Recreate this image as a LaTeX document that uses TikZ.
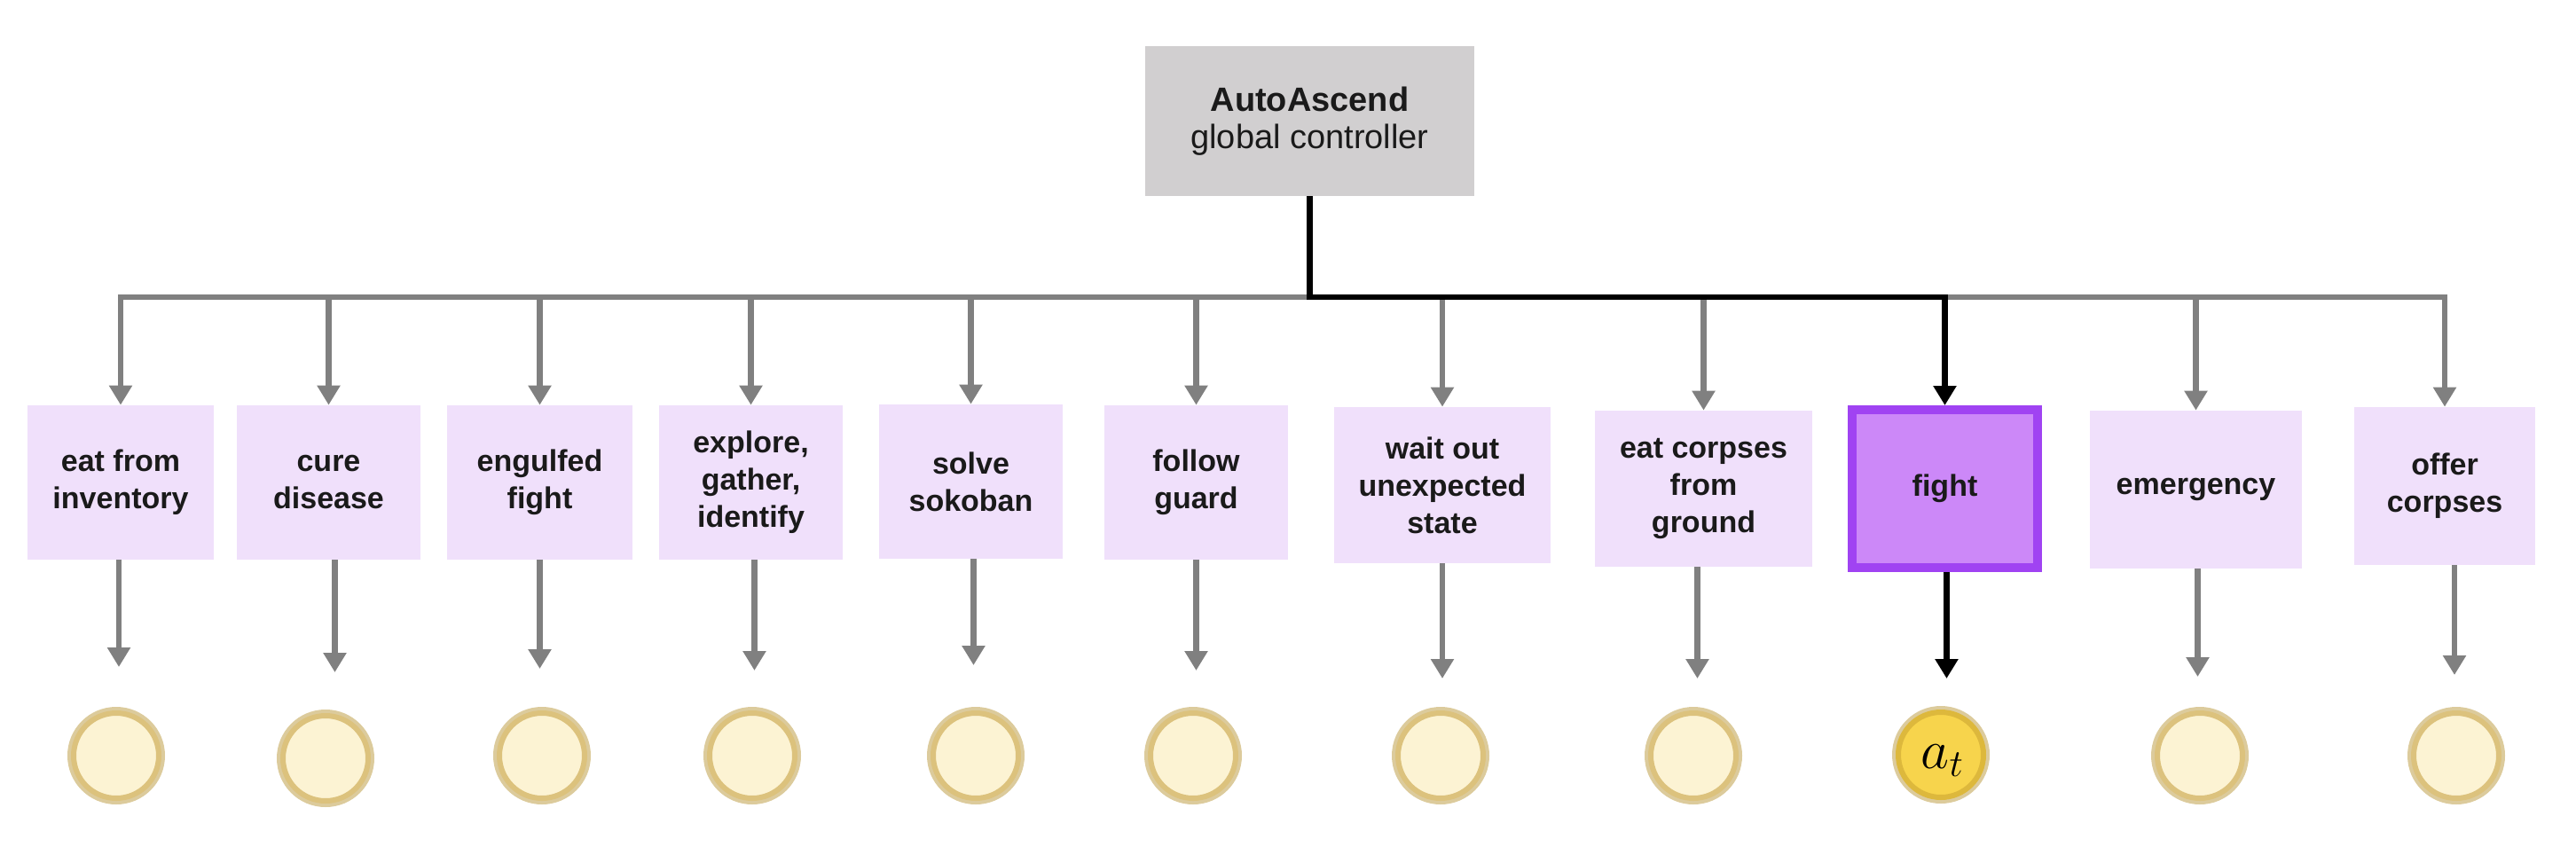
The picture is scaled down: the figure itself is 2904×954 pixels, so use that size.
\documentclass[tikz,border=0pt]{standalone}
\usepackage{graphicx}
\usepackage{fontspec}
\setmainfont{Liberation Sans}
\usetikzlibrary{arrows.meta}
\definecolor{lav}{HTML}{F0E0FB}
\definecolor{fightfill}{HTML}{CC88F8}
\definecolor{fightborder}{HTML}{A043F2}
\definecolor{topgray}{HTML}{D1CFD0}
\definecolor{lgray}{HTML}{808080}
\definecolor{cream}{HTML}{FCF3D3}
\definecolor{ringdark}{HTML}{DCC27D}
\definecolor{ringlight}{HTML}{DCCB9C}
\definecolor{gold}{HTML}{F7D44C}
\definecolor{goldring}{HTML}{DDB83C}
\definecolor{txt}{HTML}{1A1A1A}
\begin{document}
\begin{tikzpicture}[x=0.5pt,y=-0.5pt,
  task/.style={rectangle, fill=lav, text=txt, align=center, inner sep=0pt,
    font=\fontsize{17}{21}\selectfont\bfseries},
  chosen/.style={rectangle, fill=fightfill, draw=fightborder, line width=5pt, text=txt,
    align=center, inner sep=0pt, font=\fontsize{17}{21}\selectfont\bfseries},
  ctrlbox/.style={rectangle, fill=topgray, text=txt, align=center, inner sep=0pt,
    font=\fontsize{19}{21}\selectfont},
  act/.style={circle, minimum size=48pt, inner sep=0pt, outer sep=0pt, fill=cream,
    draw=ringdark, line width=3pt, preaction={draw=ringlight, line width=7pt}},
  actsel/.style={act, fill=gold, draw=goldring},
  gline/.style={draw=lgray, line width=3.2pt},
  garr/.style={gline, -{Triangle[width=12.5pt,length=11pt]}},
  bline/.style={draw=black, line width=3.3pt, line join=miter},
  barr/.style={bline, -{Triangle[width=12.5pt,length=11pt]}}
]
\useasboundingbox (0,0) rectangle (2904,954);

\node[ctrlbox, minimum width=185.5pt, minimum height=84.5pt] (ctrl) at (1476.5,136.5)
  {\textbf{AutoAscend}\\global controller};

\node[task, minimum width=105pt,  minimum height=87pt] (b1)  at (136,544)   {eat from\\inventory};
\node[task, minimum width=103.5pt,minimum height=87pt] (b2)  at (370.5,544) {cure\\disease};
\node[task, minimum width=104.5pt,minimum height=87pt] (b3)  at (608.5,544) {engulfed\\fight};
\node[task, minimum width=103.5pt,minimum height=87pt] (b4)  at (846.5,544) {explore,\\gather,\\identify};
\node[task, minimum width=103.5pt,minimum height=87pt] (b5)  at (1094.5,543) {solve\\sokoban};
\node[task, minimum width=103.5pt,minimum height=87pt] (b6)  at (1348.5,544) {follow\\guard};
\node[task, minimum width=122pt,  minimum height=88pt] (b7)  at (1626,547)  {wait out\\unexpected\\state};
\node[task, minimum width=122.5pt,minimum height=88pt] (b8)  at (1920.5,551) {eat corpses\\from\\ground};
\node[chosen, minimum width=104.5pt,minimum height=89pt] (b9) at (2192.5,551) {fight};
\node[task, minimum width=119.5pt,minimum height=89pt] (b10) at (2475.5,552) {emergency};
\node[task, minimum width=102pt,  minimum height=89pt] (b11) at (2756,548)  {offer\\corpses};

\node[act] (c1)  at (131,852) {};
\node[act] (c2)  at (367,855) {};
\node[act] (c3)  at (611,852) {};
\node[act] (c4)  at (848,852) {};
\node[act] (c5)  at (1100,852) {};
\node[act] (c6)  at (1345,852) {};
\node[act] (c7)  at (1624,852) {};
\node[act] (c8)  at (1909,852) {};
\node[actsel] (c9) at (2188,851) {};
\node[anchor=center, inner sep=0pt, text depth=0pt, font=\fontsize{24}{26}\selectfont]
  (at) at ([xshift=1pt,yshift=-1pt]c9.center) {\scalebox{1.25}{$a_t$}};
\node[act] (c10) at (2480,852) {};
\node[act] (c11) at (2769,852) {};

\coordinate (bus) at (0,335);

% gray bus
\draw[gline, line cap=rect] (b1.north |- bus) -- (b11.north |- bus);
% gray arrows from bus to tasks
\foreach \i in {1,2,3,4,5,6,7,8,10,11}{
  \draw[garr] (b\i.north |- bus) -- (b\i.north);
}
% lower gray arrows
\foreach \i/\xs/\sh in {1/-1/26pt,2/3.5/24.5pt,3/0/25pt,4/2/24pt,5/1.5/27pt,6/0/24pt,7/0/19.5pt,8/-3.5/19.5pt,10/1/20.5pt,11/5.5/21.5pt}{
  \draw[garr, shorten >=\sh] ([xshift=\xs pt]b\i.south) -- ([xshift=\xs pt]b\i.south |- c\i.north);
}
% selected (black) path
\draw[barr] (ctrl.south) -- (ctrl.south |- bus) -- (b9.north |- bus) -- (b9.north);
\draw[barr, shorten >=19pt] ([xshift=1pt]b9.south) -- ([xshift=1pt]b9.south |- c9.north);
\end{tikzpicture}
\end{document}
